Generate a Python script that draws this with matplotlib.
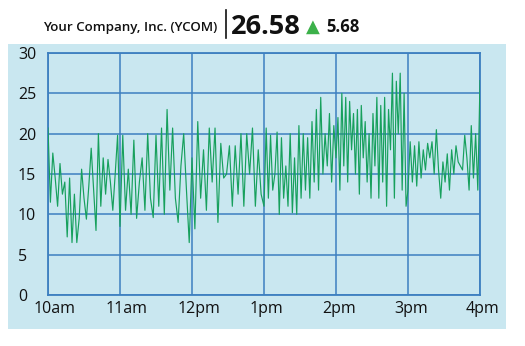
import numpy as np
import matplotlib
matplotlib.use("Agg")
import matplotlib.pyplot as plt
import matplotlib.transforms as mtransforms

# ---- data ----
hour_starts = [10, 11, 12, 13, 14, 15]
hour1 = [20.7, 11.5, 17.6, 14.5, 11, 16.3, 12.5, 14, 7.2, 14.5, 6.5, 12.5, 6.5, 9.5, 15.6,
         12, 9.4, 13.5, 18.2, 13, 8, 20, 11, 17, 12.5, 16.8, 14, 10.5, 15, 19.8]
hour2 = [8.5, 19.8, 10.5, 15.6, 10, 19.2, 9.5, 14, 17, 10.5, 20, 12, 9.6, 19.8, 11, 20.7,
         10, 23, 13, 20.7, 12, 9, 16, 20, 13, 6.5]
hour3 = [17, 8.2, 21.5, 12, 18, 10.5, 20.7, 14, 20.7, 9, 18.8, 14.5, 15, 18.5, 11, 18.5,
         12.5, 20, 11, 20, 15, 20.7, 11, 18, 12.5]
hour4 = [11, 20.7, 12, 19.8, 13, 15, 20.2, 10, 19.5, 12, 16, 11, 20, 10.2, 17, 10, 21, 12,
         20, 13, 19.5, 12, 21.5, 14, 23, 13, 24.5, 15, 20, 16, 22.5, 14, 21]
hour5 = [17, 22, 13, 25, 16, 24.5, 14, 24, 18, 22.5, 15, 23, 12.5, 23.5, 17, 21.5, 14, 20,
         12, 22.5, 16, 24.5, 12, 23.5, 14, 24.5, 11, 23, 18, 27.5, 12, 26.5, 20, 27.5, 13, 25, 11]
hour6 = [13, 19, 14, 18.5, 13.5, 19, 14.5, 18, 15.5, 18.8, 17, 19, 15, 20.5, 15.5, 12, 16.5,
         14, 17.5, 13, 18, 15, 18.5, 16.5, 16, 15.5, 19.8, 17, 13, 21, 14.5, 20, 13, 26.58]
hours = [hour1, hour2, hour3, hour4, hour5, hour6]

x_ticks = [10, 11, 12, 13, 14, 15, 16]
x_labels = ["10am", "11am", "12pm", "1pm", "2pm", "3pm", "4pm"]
y_ticks = [0, 5, 10, 15, 20, 25, 30]
y_labels = ["0", "5", "10", "15", "20", "25", "30"]

title_name = "Your Company, Inc. (YCOM)"
last_price = "26.58"
change = "5.68"

# ---- build series ----
times, values = [], []
for i, (h, vals) in enumerate(zip(hour_starts, hours)):
    last = (i == len(hours) - 1)
    t = np.linspace(h, h + 1, len(vals), endpoint=last)
    times.extend(t)
    values.extend(vals)

W, H = 525, 346
fig = plt.figure(figsize=(W / 100, H / 100), dpi=100)
fig.patch.set_facecolor("white")

bg = "#c9e7f0"
grid_c = "#3d7fc0"
line_c = "#17a05d"
txt_c = "#111111"
font = ["Open Sans", "DejaVu Sans"]

bg_ax = fig.add_axes([8 / W, 1 - 329 / H, 498 / W, 285 / H], zorder=0)
bg_ax.set_facecolor(bg)
bg_ax.set_xticks([])
bg_ax.set_yticks([])
for s in bg_ax.spines.values():
    s.set_visible(False)

ax = fig.add_axes([48 / W, 1 - 295 / H, 432 / W, 242 / H], zorder=1)
ax.set_facecolor("none")
ax.plot(times, values, color=line_c, lw=0.85, zorder=3)
ax.set_xlim(10, 16)
ax.set_ylim(0, 30)
ax.set_xticks(x_ticks)
ax.set_yticks(y_ticks)
ax.set_xticklabels([])
ax.set_yticklabels([])
ax.grid(True, color=grid_c, lw=1.1)
for s in ax.spines.values():
    s.set_color(grid_c)
    s.set_linewidth(1.3)
ax.tick_params(length=0)

# tick labels (left-aligned as in the reference)
xtrans = mtransforms.blended_transform_factory(ax.transData, ax.transAxes) + \
    mtransforms.ScaledTranslation(-14 / 100, -6 / 100, fig.dpi_scale_trans)
for xt, lab in zip(x_ticks, x_labels):
    ax.text(xt, 0, lab, transform=xtrans, ha="left", va="top", fontsize=11.5,
            family=font, color=txt_c, clip_on=False)
ytrans = mtransforms.blended_transform_factory(ax.transAxes, ax.transData) + \
    mtransforms.ScaledTranslation(-30 / 100, -2 / 100, fig.dpi_scale_trans)
for yt, lab in zip(y_ticks, y_labels):
    ax.text(0, yt, lab, transform=ytrans, ha="left", va="center", fontsize=11.5,
            family=font, color=txt_c, clip_on=False)

# ---- header ----
ty = 1 - 27 / H
fig.text(43 / W, ty, title_name, ha="left", va="center", fontsize=9.6,
         fontweight="semibold", family=font, color=txt_c)
fig.add_artist(plt.Line2D([226 / W, 226 / W], [1 - 38 / H, 1 - 10 / H],
                          transform=fig.transFigure, color=txt_c, lw=1.2))
fig.text(231 / W, ty, last_price, ha="left", va="center", fontsize=19.5,
         fontweight="bold", family=font, color=txt_c)
fig.text(313 / W, ty, "\u25B2", ha="center", va="center", fontsize=13,
         family=["DejaVu Sans"], color="#3cb14a")
fig.text(326 / W, ty, change, ha="left", va="center", fontsize=12,
         fontweight="bold", family=font, color=txt_c)

fig.savefig("out.png", dpi=100)
